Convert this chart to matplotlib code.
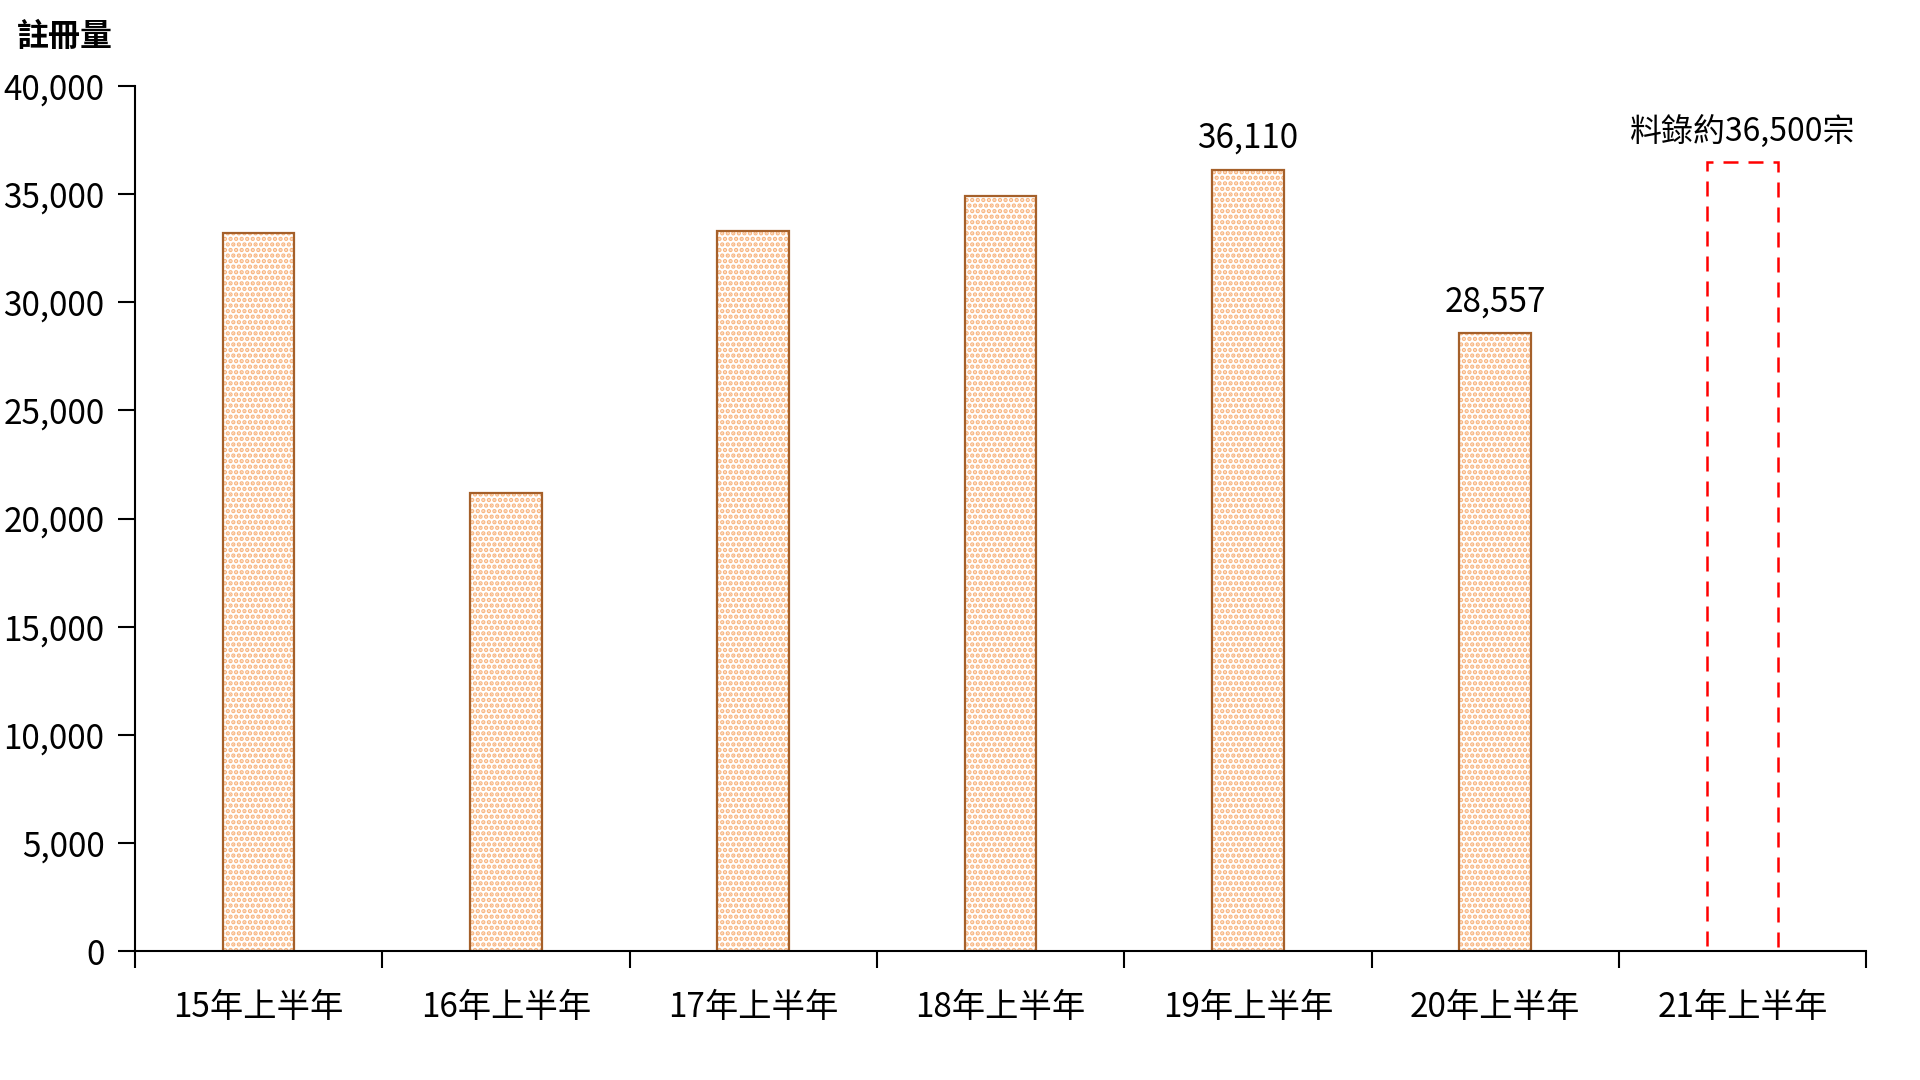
import matplotlib.pyplot as plt
import numpy as np

plt.rcParams['font.family'] = ['Noto Sans CJK TC', 'DejaVu Sans']

categories = ['15年上半年', '16年上半年', '17年上半年', '18年上半年',
              '19年上半年', '20年上半年', '21年上半年']
values = [33200, 21200, 33300, 34900, 36110, 28557]
forecast = 36500
forecast_label = '料錄約36,500宗'
labelled = {4: '36,110', 5: '28,557'}

fig = plt.figure(figsize=(19.2, 10.8), dpi=100)
ax = fig.add_axes([0.0703, 0.1194, 0.9017, 0.801])

x = np.arange(len(values))
width = 0.29
plt.rcParams['hatch.linewidth'] = 2.2
# dotted orange fill, then brown outline on top
ax.bar(x, values, width, facecolor='white', edgecolor='#F8B47E',
       hatch='...', linewidth=0)
ax.bar(x, values, width, facecolor='none', edgecolor='#A5602A', linewidth=1.6)

# forecast bar for 21
ax.bar(len(values), forecast, width, facecolor='none', edgecolor='#FF0000',
       linewidth=1.8, linestyle=(0, (6, 4)))

for i, txt in labelled.items():
    ax.text(i, values[i] + 650, txt, ha='center', va='bottom', fontsize=24)
ax.text(len(values), forecast + 650, forecast_label, ha='center', va='bottom',
        fontsize=23)

ax.set_xlim(-0.5, len(categories) - 0.5)
ax.set_ylim(0, 40000)
ax.set_yticks(np.arange(0, 40001, 5000))
ax.set_yticklabels([f'{v:,}' for v in range(0, 40001, 5000)], fontsize=24)
ax.set_xticks(np.arange(-0.5, len(categories), 1))
ax.set_xticklabels([])
ax.set_xticks(x.tolist() + [len(values)], minor=True)
ax.set_xticklabels(categories, minor=True, fontsize=24)
ax.tick_params(axis='x', which='minor', length=0, pad=28)
ax.tick_params(axis='both', which='major', length=12, width=1.5, direction='out')
ax.tick_params(axis='y', pad=10)

for s in ['top', 'right']:
    ax.spines[s].set_visible(False)
for s in ['left', 'bottom']:
    ax.spines[s].set_linewidth(1.5)

fig.text(0.009, 0.966, '註冊量', fontsize=23, fontweight='bold', ha='left', va='center')

fig.savefig('out.png', dpi=100)
